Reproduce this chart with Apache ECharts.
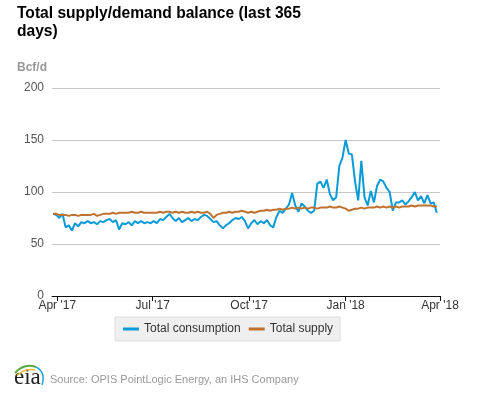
<!DOCTYPE html>
<html>
<head>
<meta charset="utf-8">
<script src="https://cdn.jsdelivr.net/npm/echarts@6/dist/echarts.min.js"></script>
<style>
html,body{margin:0;padding:0;background:#fff;}
#chart{width:477px;height:393px;}
</style>
</head>
<body>
<div id="chart"></div>
<script>
// Readings every 3 days, first reading on 2017-03-28 (day -4 relative to 2017-04-01)
const firstDay = -4;
const stepDays = 3;
const consumption = [
  79, 78, 75, 79, 66, 68, 63, 70, 67, 71,
  70, 72, 70, 71, 69, 72, 71, 73, 74, 71,
  73, 64, 70, 69, 71, 68, 72, 70, 72, 70,
  71, 70, 72, 70, 74, 73, 76, 79, 75, 72,
  75, 71, 73, 75, 72, 74, 73, 76, 78, 77,
  74, 71, 72, 68, 65, 68, 70, 73, 75, 74,
  76, 72, 65, 70, 73, 69, 72, 70, 73, 68,
  66, 76, 82, 80, 84, 88, 99, 87, 81, 89,
  86, 82, 80, 82, 108, 110, 104, 112, 98, 92,
  95, 125, 133, 150, 137, 136, 110, 92, 130, 95,
  87, 101, 90, 106, 112, 110, 104, 100, 82, 90,
  90, 92, 88, 91, 95, 100, 92, 96, 89, 97,
  89, 90, 80
];
const supply = [
  79, 79, 78, 78, 78, 77, 78, 78, 77, 78,
  78, 78, 78, 79, 77, 78, 79, 79, 79, 80,
  79, 80, 80, 80, 80, 81, 80, 80, 81, 80,
  80, 80, 80, 80, 81, 80, 81, 81, 80, 81,
  80, 81, 80, 80, 81, 80, 81, 80, 80, 81,
  79, 75, 78, 79, 80, 80, 81, 80, 81, 81,
  82, 81, 80, 81, 80, 81, 82, 82, 83, 82,
  83, 83, 84, 83, 84, 84, 85, 84, 85, 84,
  85, 84, 85, 85, 84, 85, 85, 85, 86, 85,
  85, 86, 85, 84, 82, 83, 84, 84, 85, 84,
  85, 85, 85, 86, 85, 86, 85, 86, 85, 86,
  85, 86, 86, 86, 87, 86, 87, 87, 87, 87,
  87, 86, 86
];
// tick positions: days since 2017-04-01
const tickDays = [0, 91, 183, 275, 365];
const tickLabels = ["Apr '17", "Jul '17", "Oct '17", "Jan '18", "Apr '18"];
const seriesNames = ['Total consumption', 'Total supply'];
const colors = ['#0a9bd6', '#bf7130'];

const toPairs = arr => arr.map((v, i) => [firstDay + i * stepDays, v]);
const FONT = '"Liberation Sans", Arial, sans-serif';

const chart = echarts.init(document.getElementById('chart'), null, {renderer: 'canvas'});
chart.setOption({
  animation: false,
  backgroundColor: '#fff',
  title: {
    text: 'Total supply/demand balance (last 365\ndays)',
    left: 17, top: 4, padding: 0,
    textStyle: {fontFamily: FONT, fontSize: 15.6, fontWeight: 'bold', color: '#000', lineHeight: 18.5}
  },
  legend: {
    left: 115, top: 317,
    padding: [6, 7, 6, 8],
    backgroundColor: '#efefef',
    borderColor: '#dedede', borderWidth: 1,
    icon: 'rect', itemWidth: 16, itemHeight: 3, itemGap: 8,
    textStyle: {fontFamily: FONT, fontSize: 12, color: '#333'},
    data: seriesNames
  },
  grid: {left: 52, right: 37, top: 88, bottom: 97, containLabel: false},
  xAxis: {
    type: 'value', min: -5, max: 365,
    axisLine: {show: true, lineStyle: {color: '#111', width: 1}},
    axisTick: {show: true, length: 5, customValues: tickDays, lineStyle: {color: '#111'}},
    axisLabel: {
      customValues: tickDays, margin: 4,
      fontFamily: FONT, fontSize: 12, color: '#333',
      formatter: v => tickLabels[tickDays.indexOf(v)]
    },
    splitLine: {show: false}
  },
  yAxis: {
    type: 'value', min: 0, max: 200, interval: 50,
    axisLine: {show: false}, axisTick: {show: false},
    axisLabel: {margin: 8, fontFamily: FONT, fontSize: 12, color: '#555'},
    splitLine: {lineStyle: {color: '#c8c8c8', width: 1}}
  },
  series: [
    {name: seriesNames[0], type: 'line', data: toPairs(consumption), showSymbol: false,
     lineStyle: {color: colors[0], width: 2}, itemStyle: {color: colors[0]}},
    {name: seriesNames[1], type: 'line', data: toPairs(supply), showSymbol: false,
     lineStyle: {color: colors[1], width: 2}, itemStyle: {color: colors[1]}}
  ],
  graphic: [
    {type: 'text', left: 17, top: 62, style: {text: 'Bcf/d', fontFamily: FONT, fontSize: 12, fontWeight: 'bold', fill: '#999'}},
    {type: 'text', left: 50, top: 374, style: {text: 'Source: OPIS PointLogic Energy, an IHS Company', fontFamily: FONT, fontSize: 11, fill: '#999'}},
    {type: 'text', left: 14, top: 366, style: {text: 'eia', fontFamily: '"Liberation Serif", serif', fontSize: 23, fill: '#222'}},
    {type: 'bezierCurve', shape: {x1: 15, y1: 373, x2: 36, y2: 367, cpx1: 24, cpy1: 363}, style: {stroke: '#5aa844', lineWidth: 2, fill: null}},
    {type: 'bezierCurve', shape: {x1: 17, y1: 375.5, x2: 35, y2: 370, cpx1: 25, cpy1: 368}, style: {stroke: '#f0c030', lineWidth: 1.5, fill: null}},
    {type: 'bezierCurve', shape: {x1: 36, y1: 367, x2: 42, y2: 385, cpx1: 46, cpy1: 372}, style: {stroke: '#1ca3dc', lineWidth: 1.5, fill: null}}
  ]
});
</script>
</body>
</html>
